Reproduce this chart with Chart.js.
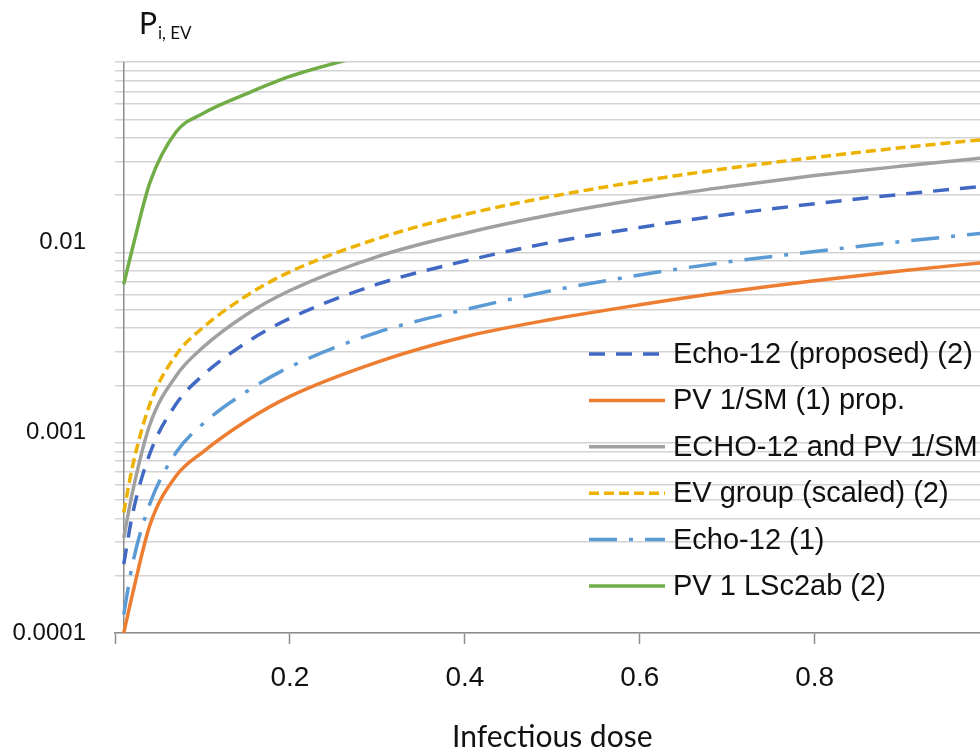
<!DOCTYPE html>
<html>
<head>
<meta charset="utf-8">
<title>P i,EV vs infectious dose</title>
<script src="https://cdn.jsdelivr.net/npm/chart.js@4.4.1/dist/chart.umd.min.js"></script>
<style>
    html, body { margin: 0; padding: 0; background: #fff; overflow: hidden; }
    #wrap { width: 980px; height: 749px; }
</style>
</head>
<body>
<div id="wrap"><canvas id="doseChart" width="980" height="749"></canvas></div>
<script>
const doses = [0.01, 0.02, 0.04, 0.07, 0.1, 0.15, 0.2, 0.3, 0.4, 0.5, 0.6, 0.7, 0.8, 0.9, 1.0];
const echo12Proposed = [0.00023, 0.00042, 0.00088, 0.0016, 0.00225, 0.00335, 0.0045, 0.0068, 0.009, 0.0113, 0.0135, 0.0158, 0.018, 0.0202, 0.0224];
const pv1SmProp = [0.0001, 0.00016, 0.00037, 0.00067, 0.00089, 0.0013, 0.00175, 0.00265, 0.0036, 0.00445, 0.0053, 0.0062, 0.0071, 0.008, 0.0089];
const echo12AndPv1Sm = [0.000316, 0.00055, 0.00125, 0.00225, 0.00315, 0.0047, 0.0063, 0.0095, 0.0126, 0.0158, 0.019, 0.0221, 0.0253, 0.0284, 0.0316];
const evGroupScaled = [0.00043, 0.00075, 0.0016, 0.0029, 0.004, 0.0059, 0.0079, 0.0118, 0.0158, 0.0197, 0.0236, 0.0276, 0.0315, 0.0355, 0.0394];
const echo12 = [0.000125, 0.00023, 0.00048, 0.00089, 0.00125, 0.00185, 0.0025, 0.0038, 0.005, 0.0063, 0.0076, 0.0089, 0.0101, 0.0114, 0.0127];

// The green curve leaves the plot at the top, so it has fewer points
const lsc2abDoses = [0.01, 0.02, 0.04, 0.07, 0.1, 0.15, 0.2, 0.3];
const pv1Lsc2ab = [0.0068, 0.0105, 0.0233, 0.043, 0.0535, 0.068, 0.084, 0.113];

// Axes
const xMin = 0;
const xMax = 0.989;           // picture is cut just before 1
const xTickValues = [0, 0.2, 0.4, 0.6, 0.8];
const xTickLabels = ['', '0.2', '0.4', '0.6', '0.8'];
const yMin = 0.0001;
const yMax = 0.1;
const yTickValues = [0.0001, 0.001, 0.01];
const yTickLabels = ['0.0001', '0.001', '0.01'];
const yAxisCrossing = 0.01;   // vertical axis is drawn at dose 0.01

const COLORS = {
    blue: '#4169C4',
    orange: '#ED7D31',
    gray: '#A0A0A0',
    gold: '#EDB200',
    lightBlue: '#5B9BD5',
    green: '#70AD47',
    grid: '#D3D3D3',
    axis: '#8C8C8C',
    text: '#111111'
};

const toPoints = (xs, ys) => xs.map((x, i) => ({ x: x, y: ys[i] }));

const datasets = [
    { label: 'Echo-12 (proposed) (2)', data: toPoints(doses, echo12Proposed), borderColor: COLORS.blue, borderDash: [16, 11], borderWidth: 3.5 },
    { label: 'PV 1/SM (1) prop.', data: toPoints(doses, pv1SmProp), borderColor: COLORS.orange, borderDash: [], borderWidth: 3.5 },
    { label: 'ECHO-12 and PV 1/SM', data: toPoints(doses, echo12AndPv1Sm), borderColor: COLORS.gray, borderDash: [], borderWidth: 3.5 },
    { label: 'EV group (scaled) (2)', data: toPoints(doses, evGroupScaled), borderColor: COLORS.gold, borderDash: [10, 5], borderWidth: 3.5 },
    { label: 'Echo-12 (1)', data: toPoints(doses, echo12), borderColor: COLORS.lightBlue, borderDash: [28, 12, 4, 12], borderWidth: 3.5 },
    { label: 'PV 1 LSc2ab (2)', data: toPoints(lsc2abDoses, pv1Lsc2ab), borderColor: COLORS.green, borderDash: [], borderWidth: 3.5 }
];
datasets.forEach(ds => {
    ds.pointRadius = 0;
    ds.fill = false;
    ds.cubicInterpolationMode = 'monotone';
    ds.backgroundColor = ds.borderColor;
});

// Vertical axis line at dose 0.01
const yAxisLine = {
    id: 'yAxisLine',
    beforeDatasetsDraw(chart) {
        const { ctx, chartArea, scales } = chart;
        const x = scales.x.getPixelForValue(yAxisCrossing);
        ctx.save();
        ctx.strokeStyle = COLORS.axis;
        ctx.lineWidth = 1.5;
        ctx.beginPath();
        ctx.moveTo(x, chartArea.top);
        ctx.lineTo(x, chartArea.bottom);
        ctx.stroke();
        ctx.restore();
    }
};

// Axis titles (y title has a subscript)
const axisTitles = {
    id: 'axisTitles',
    afterDraw(chart) {
        const { ctx, scales } = chart;
        ctx.save();
        ctx.fillStyle = COLORS.text;
        ctx.textBaseline = 'alphabetic';
        ctx.textAlign = 'left';
        ctx.font = '30px Lato';
        ctx.fillText('P', 139, 34);
        const pw = ctx.measureText('P').width;
        ctx.font = '17px Lato';
        ctx.fillText('i, EV', 139 + pw + 1, 39);
        ctx.font = '30px Lato';
        ctx.textAlign = 'center';
        ctx.fillText('Infectious dose', scales.x.getPixelForValue(0.5), 747);
        ctx.restore();
    }
};

// Legend inside the plot, lower right
const innerLegend = {
    id: 'innerLegend',
    afterDraw(chart) {
        const { ctx } = chart;
        const lineX0 = 589, lineX1 = 665, textX = 673, rowY0 = 354, rowGap = 46.4;
        ctx.save();
        ctx.font = '29px "Liberation Sans", Arial, sans-serif';
        ctx.textBaseline = 'middle';
        ctx.textAlign = 'left';
        chart.data.datasets.forEach((ds, i) => {
            const y = rowY0 + i * rowGap;
            ctx.strokeStyle = ds.borderColor;
            ctx.lineWidth = ds.borderWidth;
            ctx.setLineDash(ds.borderDash);
            ctx.beginPath();
            ctx.moveTo(lineX0, y);
            ctx.lineTo(lineX1, y);
            ctx.stroke();
            ctx.setLineDash([]);
            ctx.fillStyle = COLORS.text;
            ctx.fillText(ds.label, textX, y + 1);
        });
        ctx.restore();
    }
};

const ctx = document.getElementById('doseChart').getContext('2d');
new Chart(ctx, {
    type: 'line',
    data: { datasets: datasets },
    options: {
        responsive: false,
        animation: false,
        layout: { padding: { top: 62, right: 0, bottom: 0, left: 0 } },
        plugins: {
            legend: { display: false },
            tooltip: { enabled: false }
        },
        scales: {
            x: {
                type: 'linear',
                min: xMin,
                max: xMax,
                afterBuildTicks: scale => {
                    scale.ticks = xTickValues.map(v => ({ value: v }));
                },
                afterFit: scale => { scale.height = 116; },
                grid: {
                    drawOnChartArea: false,
                    drawTicks: true,
                    tickLength: 11,
                    tickColor: COLORS.axis,
                    tickWidth: 1.5
                },
                border: { display: true, color: COLORS.axis, width: 1.5 },
                ticks: {
                    autoSkip: false,
                    maxRotation: 0,
                    padding: 17,
                    color: COLORS.text,
                    font: { family: '"Liberation Sans", Arial, sans-serif', size: 28 },
                    callback: value => {
                        const i = xTickValues.indexOf(value);
                        return i >= 0 ? xTickLabels[i] : '';
                    }
                }
            },
            y: {
                type: 'logarithmic',
                min: yMin,
                max: yMax,
                afterBuildTicks: scale => {
                    const ticks = [];
                    yTickValues.forEach(base => {
                        for (let m = 1; m <= 9; m++) ticks.push({ value: base * m, major: m === 1 });
                    });
                    ticks.push({ value: yMax, major: true });
                    scale.ticks = ticks;
                },
                afterFit: scale => { scale.width = 115; },
                grid: {
                    color: COLORS.grid,
                    lineWidth: 1.5,
                    drawTicks: false
                },
                border: { display: false },
                ticks: {
                    autoSkip: false,
                    padding: 29,
                    color: COLORS.text,
                    font: { family: '"Liberation Sans", Arial, sans-serif', size: 24, lineHeight: '20px' },
                    callback: value => {
                        const i = yTickValues.indexOf(value);
                        if (i < 0) return '';
                        // in the picture 0.01 and 0.001 sit a little above their line
                        return i === 0 ? yTickLabels[i] : [yTickLabels[i], ''];
                    }
                }
            }
        }
    },
    plugins: [yAxisLine, axisTitles, innerLegend]
});
</script>
</body>
</html>
